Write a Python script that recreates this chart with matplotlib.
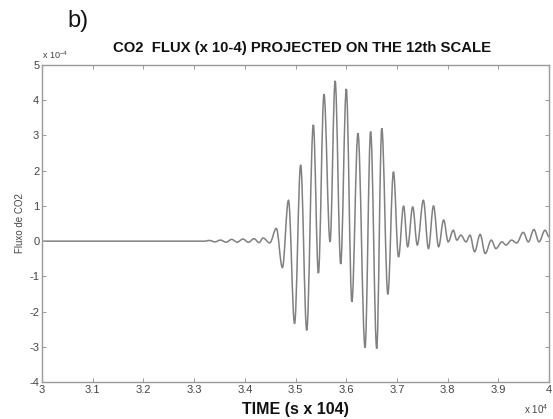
import numpy as np
import matplotlib
matplotlib.use("Agg")
import matplotlib.pyplot as plt
from matplotlib.path import Path
from matplotlib.patches import PathPatch

plt.rcParams['font.family'] = ['Liberation Sans', 'DejaVu Sans']
plt.rcParams['mathtext.fontset'] = 'custom'
plt.rcParams['mathtext.rm'] = 'Liberation Sans'
plt.rcParams['axes.unicode_minus'] = False

LINE = "#808080"; AX = "#9a9a9a"; TXT = "#444444"

# extremos da série: tempo (x 10^4 s), fluxo (x 10^-4)
t_ext = [3.000, 3.320, 3.330, 3.341, 3.352, 3.363, 3.374, 3.385, 3.396, 3.407,
         3.418, 3.428, 3.436, 3.449, 3.462, 3.474, 3.486, 3.498, 3.510, 3.522,
         3.535, 3.545, 3.556, 3.568, 3.578, 3.589, 3.600, 3.611, 3.623, 3.637,
         3.648, 3.660, 3.670, 3.682, 3.693, 3.703, 3.713, 3.721, 3.731, 3.740,
         3.752, 3.762, 3.772, 3.782, 3.792, 3.801, 3.811, 3.818, 3.826, 3.836,
         3.844, 3.853, 3.864, 3.874, 3.886, 3.895, 3.907, 3.915, 3.926, 3.936,
         3.949, 3.959, 3.970, 3.980, 3.992, 4.000]
flux_ext = [0.00, 0.00, 0.02, -0.02, 0.03, -0.03, 0.05, -0.03, 0.06, -0.03,
            0.07, -0.04, 0.09, -0.05, 0.36, -0.75, 1.16, -2.34, 2.16, -2.53,
            3.30, -0.91, 4.17, -0.02, 4.55, -0.65, 4.32, -1.72, 3.06, -3.02,
            3.11, -3.05, 3.20, -1.51, 1.97, -0.45, 1.00, -0.16, 0.97, -0.11,
            1.16, -0.21, 1.00, -0.16, 0.60, -0.02, 0.31, 0.03, 0.17, -0.02,
            0.17, -0.30, 0.19, -0.35, 0.03, -0.21, -0.02, -0.11, 0.03, -0.05,
            0.25, -0.02, 0.33, -0.02, 0.31, 0.12]

xticks = [3, 3.1, 3.2, 3.3, 3.4, 3.5, 3.6, 3.7, 3.8, 3.9, 4]
xlabels = ["3", "3.1", "3.2", "3.3", "3.4", "3.5", "3.6", "3.7", "3.8", "3.9", "4"]
yticks = [-4, -3, -2, -1, 0, 1, 2, 3, 4, 5]

fig = plt.figure(figsize=(5.53, 4.19), dpi=100)
ax = fig.add_axes([0.076, 0.088, 0.917, 0.757])

# curva suave entre extremos (tangente horizontal em cada extremo)
k = 0.36
verts = [(t_ext[0], flux_ext[0])]
codes = [Path.MOVETO]
for i in range(len(t_ext) - 1):
    x0, y0, x1, y1 = t_ext[i], flux_ext[i], t_ext[i + 1], flux_ext[i + 1]
    dx = x1 - x0
    verts += [(x0 + k * dx, y0), (x1 - k * dx, y1), (x1, y1)]
    codes += [Path.CURVE4] * 3
ax.add_patch(PathPatch(Path(verts, codes), fill=False, edgecolor=LINE, lw=1.1))

ax.set_xlim(3, 4); ax.set_ylim(-4, 5)
ax.set_xticks(xticks); ax.set_xticklabels(xlabels)
ax.set_yticks(yticks)
ax.tick_params(direction="in", length=3, width=0.7, color=AX, labelsize=8,
               labelcolor=TXT, top=True, right=True, pad=2)
for s in ax.spines.values():
    s.set_color(AX); s.set_linewidth(1.0)

ax.set_ylabel("Fluxo de CO2", fontsize=7, color=TXT)
ax.yaxis.set_label_coords(-0.034, 0.5)
ax.set_xlabel("TIME (s x 104)", fontsize=11.5, fontweight="bold", color="#111", labelpad=5)
ax.set_title("CO2  FLUX (x 10-4) PROJECTED ON THE 12th SCALE", fontsize=10.7,
             fontweight="bold", color="#111", pad=9, x=0.513)

ax.text(0.0, 1.012, r"x 10$^{-4}$", transform=ax.transAxes, fontsize=6.5, color=TXT,
        ha="left", va="bottom")
fig.text(0.992, 0.006, r"x 10$^{4}$", fontsize=7, color=TXT, ha="right", va="bottom")
fig.text(0.122, 0.95, "b)", fontsize=17, color="#111", ha="left", va="center")

fig.savefig("out.png", dpi=100)
